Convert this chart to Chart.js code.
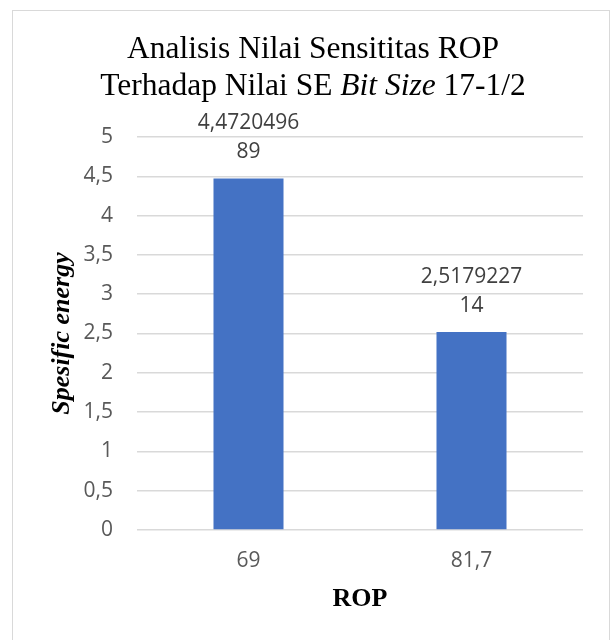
<!DOCTYPE html>
<html>
<head>
<meta charset="utf-8">
<script src="https://cdn.jsdelivr.net/npm/chart.js@4"></script>
<style>
  html, body { margin: 0; padding: 0; background: #ffffff; }
  #wrap { position: relative; width: 612px; height: 640px; overflow: hidden; }
  #frame { position: absolute; left: 12px; top: 10px; width: 598px; height: 660px;
           border: 1px solid #d9d9d9; box-sizing: border-box; }
  #title { position: absolute; left: 12px; width: 602px; top: 29px; text-align: center;
           font-family: "Liberation Serif", "Times New Roman", serif; font-size: 31.5px;
           line-height: 37px; color: #000; }
  canvas { position: absolute; left: 0; top: 0; }
</style>
</head>
<body>
<div id="wrap">
  <div id="frame"></div>
  <canvas id="c" width="612" height="640"></canvas>
  <div id="title">Analisis Nilai Sensititas ROP<br>Terhadap Nilai SE <i>Bit Size</i> 17-1/2</div>
</div>
<script>
// ROP categories and the specific energy computed for each
const categories = ["69", "81,7"];
const specificEnergy = [4.472049689, 2.517922714];
const yTicks = [0, 0.5, 1, 1.5, 2, 2.5, 3, 3.5, 4, 4.5, 5];

const commaNum = v => String(v).replace('.', ',');

// Value labels above each bar, wrapped after nine characters
const barValueLabels = {
  id: 'barValueLabels',
  afterDatasetsDraw(chart) {
    const ctx = chart.ctx;
    const meta = chart.getDatasetMeta(0);
    ctx.save();
    ctx.font = '21px "Open Sans"';
    ctx.fillStyle = '#404040';
    ctx.textAlign = 'center';
    ctx.textBaseline = 'middle';
    meta.data.forEach((bar, i) => {
      const s = commaNum(chart.data.datasets[0].data[i]);
      const lines = [s.slice(0, 9), s.slice(9)].filter(t => t.length);
      const lh = 29;
      lines.forEach((t, k) => {
        ctx.fillText(t, bar.x, bar.y - 26 - (lines.length - 1 - k) * lh);
      });
    });
    ctx.restore();
  }
};

new Chart(document.getElementById('c'), {
  type: 'bar',
  data: {
    labels: categories,
    datasets: [{
      data: specificEnergy,
      backgroundColor: '#4472C4',
      borderWidth: 0,
      categoryPercentage: 1,
      barPercentage: 0.314
    }]
  },
  plugins: [barValueLabels],
  options: {
    responsive: false,
    animation: false,
    layout: { padding: { top: 137, right: 29, bottom: 0, left: 0 } },
    plugins: { legend: { display: false }, tooltip: { enabled: false }, title: { display: false } },
    scales: {
      x: {
        grid: { display: false, drawTicks: false },
        border: { display: false },
        ticks: { color: '#595959', font: { family: 'Open Sans', size: 21 }, padding: 18 },
        title: {
          display: true, text: 'ROP', color: '#000',
          font: { family: 'Liberation Serif', size: 26, weight: 'bold' },
          padding: { top: 0, bottom: 25 }
        },
        afterFit(scale) { scale.height = 110; }
      },
      y: {
        min: 0, max: 5,
        afterBuildTicks(scale) { scale.ticks = yTicks.map(v => ({ value: v })); },
        grid: { color: '#d9d9d9', lineWidth: 1.5, drawTicks: false },
        border: { display: false },
        ticks: {
          color: '#595959', font: { family: 'Open Sans', size: 21 }, padding: 24,
          callback: v => commaNum(v)
        },
        title: {
          display: true, text: 'Spesific energy', color: '#000',
          font: { family: 'Liberation Serif', size: 26, weight: 'bold', style: 'italic' },
          padding: { top: 47, bottom: 0 }
        },
        afterFit(scale) { scale.width = 137; }
      }
    }
  }
});
</script>
</body>
</html>
